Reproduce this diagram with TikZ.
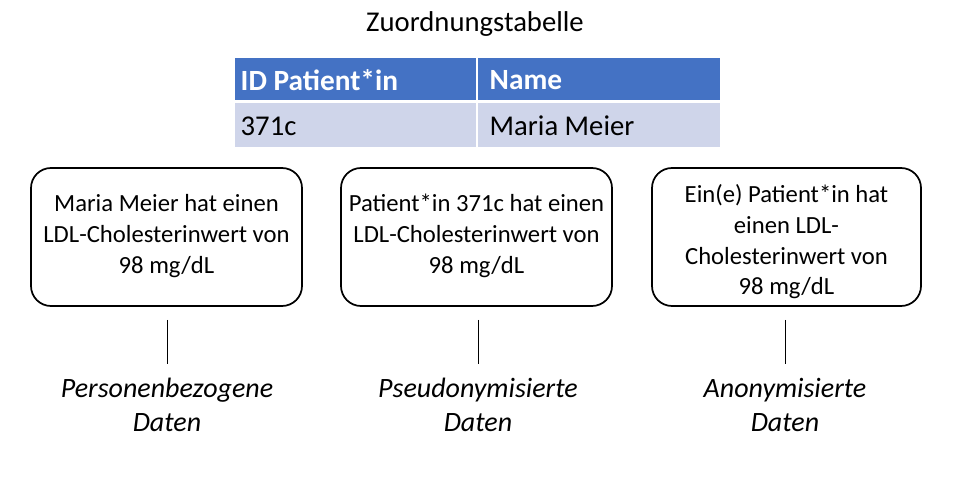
\documentclass[tikz,border=0pt]{standalone}
\usepackage{fontspec}
\setmainfont{Carlito}
\definecolor{hdr}{HTML}{4472C4}
\definecolor{rowc}{HTML}{CFD5EA}
\begin{document}
\begin{tikzpicture}[x=0.75pt,y=-0.75pt,
  every node/.style={font=\fontsize{18.5}{23}\selectfont},
  big/.style={font=\fontsize{21.5}{26}\selectfont},
  hcell/.style={text=white,font=\fontsize{22}{26}\selectfont\bfseries,anchor=west},
  rbox/.style={draw,line width=1.3pt,rounded corners=15pt},
  lbl/.style={font=\fontsize{21}{26}\selectfont\itshape,align=center,text width=250pt}]
\useasboundingbox (0,0) rectangle (958,481);
\node[big] (title) at (475,24) {Zuordnungstabelle};
\fill[hdr] (235,58) rectangle (476,100);
\fill[hdr] (478,58) rectangle (720,100);
\fill[rowc] (235,103) rectangle (476,147);
\fill[rowc] (478,103) rectangle (720,147);
\node[hcell] (h1) at (236,80) {ID Patient*in};
\node[hcell] (h2) at (485,80) {Name};
\node[big,anchor=west] (c1) at (236,126) {371c};
\node[big,anchor=west] (c2) at (485,126) {Maria Meier};
\draw[rbox] (31,168) rectangle (302,306);
\draw[rbox] (341,168) rectangle (612,306);
\draw[rbox] (652,168) rectangle (921,306);
\node[align=center] (b1) at (166.5,236) {Maria Meier hat einen\\LDL-Cholesterinwert von\\98 mg/dL};
\node[align=center] (b2) at (476.5,236) {Patient*in 371c hat einen\\LDL-Cholesterinwert von\\98 mg/dL};
\node[align=center] (b3) at (786.5,242) {Ein(e) Patient*in hat\\einen LDL-\\Cholesterinwert von\\98 mg/dL};
\coordinate (t1) at (167,320); \coordinate (u1) at (167,364);
\coordinate (t2) at (478,320); \coordinate (u2) at (478,364);
\coordinate (t3) at (785,320); \coordinate (u3) at (785,364);
\draw (t1) -- (u1); \draw (t2) -- (u2); \draw (t3) -- (u3);
\node[lbl] (l1) at (167,405) {Personenbezogene\\Daten};
\node[lbl] (l2) at (478,405) {Pseudonymisierte\\Daten};
\node[lbl] (l3) at (785,405) {Anonymisierte\\Daten};
\end{tikzpicture}
\end{document}
